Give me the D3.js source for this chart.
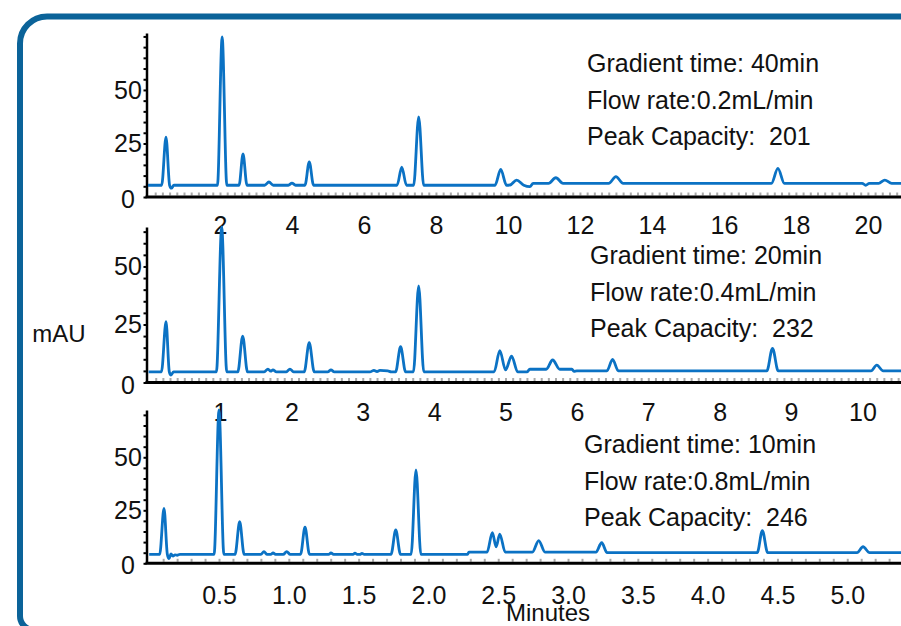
<!DOCTYPE html>
<html>
<head>
<meta charset="utf-8">
<script src="https://cdnjs.cloudflare.com/ajax/libs/d3/7.8.5/d3.min.js"></script>
<style>
  body { margin: 0; background: #fff; }
  svg { display: block; font-family: "Liberation Sans", Arial, sans-serif; }
</style>
</head>
<body>
<div id="chart"></div>
<script>

// 色谱图数据: [时间(min), mAU]
const trace40 = [
    [0, 5.5], [0.38, 5.5], [0.5, 28.0], [0.6, 5.5], [0.65, 4.1], [0.72, 5.5],
    [1.93, 5.5], [2.06, 74.8], [2.19, 5.5],
    [2.53, 5.5], [2.64, 20.1], [2.75, 5.5],
    [3.24, 5.5], [3.36, 7.0], [3.48, 5.5],
    [3.9, 5.5], [4.0, 6.5], [4.1, 5.5],
    [4.36, 5.5], [4.48, 16.4], [4.6, 5.5],
    [6.92, 5.5], [7.05, 14.0], [7.18, 5.5],
    [7.38, 5.5], [7.52, 37.4], [7.66, 5.5],
    [9.64, 5.5], [9.8, 12.9], [9.96, 5.5],
    [10.06, 5.6], [10.24, 7.9], [10.44, 5.5], [10.61, 4.8], [10.7, 6.4],
    [11.13, 6.4], [11.33, 9.0], [11.53, 6.4],
    [12.8, 6.4], [13.0, 9.5], [13.2, 6.4],
    [17.32, 6.4], [17.5, 13.4], [17.68, 6.4],
    [19.84, 6.4], [19.94, 5.5], [20.04, 6.4],
    [20.3, 6.4], [20.47, 7.9], [20.66, 6.4],
    [20.92, 6.4]
];

const trace20 = [
    [0, 4.6], [0.18, 4.6], [0.244, 26.2], [0.29, 4.6], [0.314, 3.2], [0.35, 4.6],
    [0.95, 4.6], [1.024, 67.0], [1.095, 4.6],
    [1.25, 4.6], [1.318, 20.0], [1.385, 4.6],
    [1.62, 4.6], [1.672, 5.8], [1.71, 4.9], [1.742, 5.4], [1.79, 4.6],
    [1.93, 4.6], [1.98, 5.8], [2.03, 4.6],
    [2.18, 4.6], [2.25, 17.2], [2.32, 4.6],
    [2.51, 4.6], [2.555, 5.4], [2.6, 4.6],
    [3.1, 4.6], [3.157, 5.2], [3.2, 4.7], [3.24, 5.2], [3.35, 5.0], [3.4, 4.6],
    [3.46, 4.6], [3.53, 15.4], [3.6, 4.6],
    [3.71, 4.6], [3.783, 41.6], [3.855, 4.6],
    [4.84, 4.6], [4.92, 13.7], [5.0, 5.4], [5.085, 11.4], [5.17, 4.6],
    [5.3, 4.6], [5.34, 5.7], [5.57, 5.7], [5.66, 9.7], [5.76, 5.7],
    [5.93, 5.7], [5.958, 4.8], [6.0, 5.0],
    [6.42, 5.0], [6.5, 10.0], [6.58, 5.0],
    [8.66, 5.0], [8.74, 14.7], [8.82, 5.0],
    [10.12, 5.0], [10.2, 7.5], [10.29, 5.0],
    [10.54, 5.0]
];

const trace10 = [
    [0, 4.2], [0.075, 4.2], [0.106, 25.9], [0.13, 4.2], [0.142, 2.2], [0.156, 4.4],
    [0.17, 3.4], [0.185, 4.0], [0.2, 3.8], [0.22, 4.2],
    [0.465, 4.2], [0.5, 72.3], [0.535, 4.2],
    [0.615, 4.2], [0.648, 19.6], [0.68, 4.2],
    [0.8, 4.2], [0.822, 5.5], [0.845, 4.2],
    [0.87, 4.2], [0.887, 4.9], [0.905, 4.2],
    [0.96, 4.2], [0.985, 5.5], [1.01, 4.2],
    [1.084, 4.2], [1.116, 17.0], [1.148, 4.2],
    [1.285, 4.2], [1.302, 4.9], [1.32, 4.2],
    [1.46, 4.2], [1.474, 4.8], [1.49, 4.2], [1.51, 4.2], [1.524, 4.7], [1.54, 4.2],
    [1.732, 4.2], [1.766, 15.7], [1.8, 4.2],
    [1.876, 4.2], [1.911, 44.0], [1.946, 4.2],
    [2.28, 4.2], [2.29, 5.3],
    [2.42, 5.3], [2.458, 14.4], [2.485, 7.8], [2.511, 13.8], [2.55, 5.3],
    [2.745, 5.3], [2.79, 10.7], [2.835, 5.3],
    [3.2, 5.3], [3.241, 9.7], [3.28, 5.0],
    [4.355, 5.0], [4.392, 15.4], [4.43, 5.0],
    [5.07, 5.0], [5.113, 7.8], [5.16, 5.0],
    [5.385, 5.0]
];

// 刻度
const yTicks = [0, 25, 50];
const xTicks40 = [2, 4, 6, 8, 10, 12, 14, 16, 18, 20];
const xTicks20 = [1, 2, 3, 4, 5, 6, 7, 8, 9, 10];
const xTicks10 = [0.5, 1.0, 1.5, 2.0, 2.5, 3.0, 3.5, 4.0, 4.5, 5.0];

// 条件说明
const gradientTimes = ["40min", "20min", "10min"];
const flowRates = ["0.2mL/min", "0.4mL/min", "0.8mL/min"];
const peakCapacities = [201, 232, 246];

const width = 901, height = 626;

const svg = d3.select("#chart")
    .append("svg")
    .attr("width", width)
    .attr("height", height);

// 外框 (底边在画面之外)
svg.append("path")
    .attr("d", "M 910 16.5 H 47 A 27 27 0 0 0 20 43.5 V 616 A 14 14 0 0 0 34 630 H 910")
    .attr("fill", "none")
    .attr("stroke", "#0b6399")
    .attr("stroke-width", 6);

// 三个面板的位置
const panels = [
    { trace: trace40, xTicks: xTicks40, fmt: d3.format("d"), xMax: 20.92, xLeft: 148,
      zeroY: 197, topY: 33, yMax: 76.6, labelY: 225, minor: 0.2, textX: 587, textY: 63 },
    { trace: trace20, xTicks: xTicks20, fmt: d3.format("d"), xMax: 10.54, xLeft: 148.6,
      zeroY: 382.5, topY: 227, yMax: 67.0, labelY: 412, minor: 0.1, textX: 590, textY: 255 },
    { trace: trace10, xTicks: xTicks10, fmt: d3.format(".1f"), xMax: 5.385, xLeft: 149.2,
      zeroY: 563.3, topY: 410, yMax: 72.3, labelY: 595, minor: 0.1, textX: 584, textY: 444 }
];

const axisX = 146.5;

panels.forEach((p, i) => {
    const x = d3.scaleLinear()
        .domain([0, p.xMax])
        .range([p.xLeft, width]);

    const y = d3.scaleLinear()
        .domain([0, p.yMax])
        .range([p.zeroY, p.topY]);

    // X 轴次刻度 (灰色)
    const minorTicks = d3.range(p.minor, p.xMax, p.minor);
    svg.append("g")
        .attr("transform", `translate(0,${p.zeroY - 1.5})`)
        .call(d3.axisTop(x).tickValues(minorTicks).tickSize(3).tickFormat(""))
        .call(g => g.select(".domain").remove())
        .call(g => g.selectAll(".tick line").attr("stroke", "#aaa").attr("stroke-width", 2));

    // X 轴主线
    svg.append("line")
        .attr("x1", axisX - 1)
        .attr("x2", width)
        .attr("y1", p.zeroY)
        .attr("y2", p.zeroY)
        .attr("stroke", "#000")
        .attr("stroke-width", 3);

    // X 轴标签
    svg.append("g")
        .attr("transform", `translate(0,${p.labelY})`)
        .call(d3.axisBottom(x).tickValues(p.xTicks).tickSize(0).tickPadding(0).tickFormat(p.fmt))
        .call(g => g.select(".domain").remove())
        .call(g => g.selectAll("text")
            .attr("y", 0)
            .attr("dy", "0.36em")
            .attr("fill", "#111")
            .style("font-size", "25px")
            .style("font-family", "'Liberation Sans', Arial, sans-serif"));

    // Y 轴
    const yMinor = d3.range(0, p.yMax, 5);
    svg.append("g")
        .attr("transform", `translate(${axisX},0)`)
        .call(d3.axisLeft(y).tickValues(yMinor).tickSize(3).tickSizeOuter(0).tickFormat(""))
        .call(g => g.select(".domain").attr("stroke", "#000").attr("stroke-width", 2.5))
        .call(g => g.selectAll(".tick line").attr("stroke", "#000").attr("stroke-width", 2));

    svg.append("g")
        .selectAll("text")
        .data(yTicks)
        .join("text")
        .attr("x", 128)
        .attr("y", d => y(d) + (d === 0 ? 2 : 0))
        .attr("dy", "0.36em")
        .attr("text-anchor", "middle")
        .attr("fill", "#111")
        .style("font-size", "25px")
        .text(d => d);

    // 条件文字
    const lines = [
        `Gradient time: ${gradientTimes[i]}`,
        `Flow rate:${flowRates[i]}`,
        `Peak Capacity:  ${peakCapacities[i]}`
    ];
    svg.append("g")
        .selectAll("text")
        .data(lines)
        .join("text")
        .attr("x", p.textX)
        .attr("y", (d, k) => p.textY + k * 36.5)
        .attr("dy", "0.36em")
        .attr("fill", "#111")
        .style("font-size", "25px")
        .style("white-space", "pre")
        .text(d => d);

    // 色谱曲线
    const line = d3.line()
        .x(d => x(d[0]))
        .y(d => y(d[1]))
        .curve(d3.curveMonotoneX);

    svg.append("path")
        .datum(p.trace)
        .attr("d", line)
        .attr("fill", "none")
        .attr("stroke", "#0b72c4")
        .attr("stroke-width", 2.8)
        .attr("stroke-linejoin", "round");
});

// 轴标题
svg.append("text")
    .attr("x", 59)
    .attr("y", 333)
    .attr("dy", "0.36em")
    .attr("text-anchor", "middle")
    .attr("fill", "#111")
    .style("font-size", "24px")
    .text("mAU");

svg.append("text")
    .attr("x", 548)
    .attr("y", 612)
    .attr("dy", "0.36em")
    .attr("text-anchor", "middle")
    .attr("fill", "#111")
    .style("font-size", "24px")
    .text("Minutes");

</script>
</body>
</html>
